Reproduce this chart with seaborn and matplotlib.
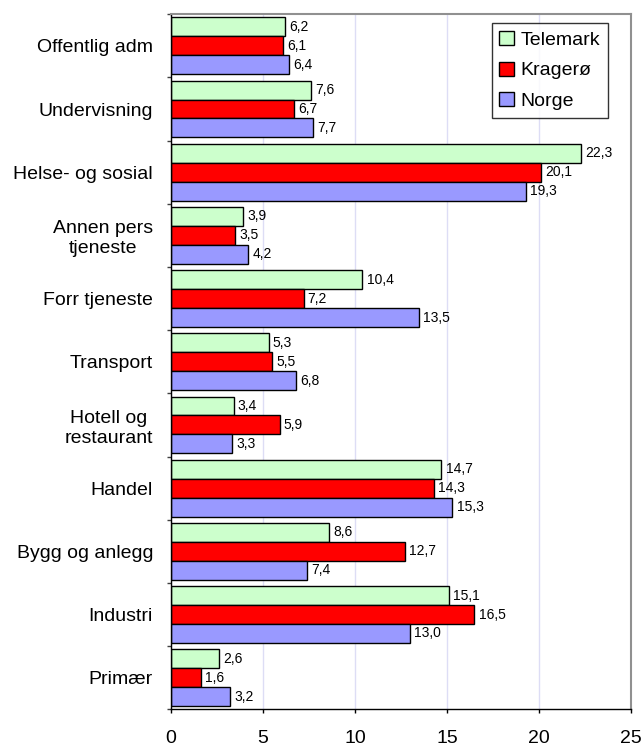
import pandas as pd
import matplotlib.pyplot as plt
import seaborn as sns

kategorier = ['Offentlig adm', 'Undervisning', 'Helse- og sosial', 'Annen pers\ntjeneste',
              'Forr tjeneste', 'Transport', 'Hotell og\nrestaurant', 'Handel',
              'Bygg og anlegg', 'Industri', 'Primær']
telemark = [6.2, 7.6, 22.3, 3.9, 10.4, 5.3, 3.4, 14.7, 8.6, 15.1, 2.6]
kragero = [6.1, 6.7, 20.1, 3.5, 7.2, 5.5, 5.9, 14.3, 12.7, 16.5, 1.6]
norge = [6.4, 7.7, 19.3, 4.2, 13.5, 6.8, 3.3, 15.3, 7.4, 13.0, 3.2]
serier = ['Telemark', 'Kragerø', 'Norge']
farger = ['#ccffcc', '#ff0000', '#9999ff']

df = pd.DataFrame({'Kategori': kategorier * 3,
                   'Verdi': telemark + kragero + norge,
                   'Serie': [s for s in serier for _ in kategorier]})

sns.set_style('white')
plt.rcParams['font.family'] = ['Liberation Sans', 'DejaVu Sans']
plt.rcParams['text.color'] = 'black'
plt.rcParams['xtick.color'] = 'black'
plt.rcParams['ytick.color'] = 'black'

fig = plt.figure(figsize=(6.41, 7.49), dpi=100)
ax = fig.add_axes([0.267, 0.053, 0.717, 0.928])

sns.barplot(data=df, y='Kategori', x='Verdi', hue='Serie', order=kategorier,
            hue_order=serier, palette=farger, saturation=1, orient='h', width=0.9,
            edgecolor='black', linewidth=1, ax=ax, legend=True)

# verdietiketter med komma som desimaltegn
for cont in ax.containers:
    ax.bar_label(cont, labels=[f'{b.get_width():.1f}'.replace('.', ',') for b in cont],
                 padding=3, fontsize=10)

ax.set_xlim(0, 25)
ax.set_xticks([0, 5, 10, 15, 20, 25])
ax.set_ylim(len(kategorier) - 0.5, -0.5)
ax.set_yticks([i + 0.5 for i in range(-1, len(kategorier))], minor=True)
ax.tick_params(axis='y', which='major', left=False, length=0, labelsize=14, pad=13)
ax.tick_params(axis='y', which='minor', left=True, length=3, width=1, color='#404040')
ax.tick_params(axis='x', bottom=True, length=3, width=1, labelsize=14, direction='out', pad=12)
for lab in ax.get_yticklabels():
    lab.set_multialignment('center')
ax.set_xlabel('')
ax.set_ylabel('')
ax.xaxis.grid(True, color='#ddddf5', linewidth=1)
ax.set_axisbelow(True)

for side in ['top', 'right']:
    ax.spines[side].set_color('#909090')
    ax.spines[side].set_linewidth(1.5)
for side in ['left', 'bottom']:
    ax.spines[side].set_color('black')
    ax.spines[side].set_linewidth(1)

leg = ax.legend(loc='upper right', bbox_to_anchor=(0.951, 0.987), borderaxespad=0,
                fontsize=14, frameon=True, fancybox=False, edgecolor='black',
                handlelength=0.75, handleheight=0.75, handletextpad=0.35,
                borderpad=0.4, labelspacing=0.65)
leg.get_frame().set_linewidth(1)

fig.savefig('out.png', dpi=100)
